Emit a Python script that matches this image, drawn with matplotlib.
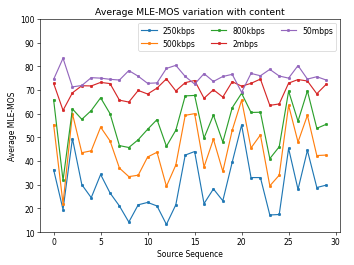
import matplotlib
matplotlib.use("Agg")
import matplotlib.pyplot as plt
import numpy as np

# Average MLE-MOS per source sequence, per bitrate
seq = np.arange(30)
mos_250k = [36.3, 19.5, 49.5, 30.0, 24.5, 34.3, 26.5, 21.0, 14.2, 21.5,
            22.5, 21.0, 13.2, 21.5, 42.5, 44.0, 22.0, 28.2, 23.2, 39.5,
            55.2, 33.0, 33.0, 17.2, 17.4, 45.3, 28.0, 44.5, 28.8, 29.8]
mos_500k = [55.3, 22.0, 60.0, 43.5, 44.3, 54.3, 48.5, 37.0, 33.4, 34.0,
            41.7, 43.7, 29.3, 38.3, 59.3, 60.0, 37.5, 49.2, 35.6, 53.0,
            65.7, 45.5, 51.0, 29.5, 34.0, 63.5, 48.0, 59.3, 42.3, 42.5]
mos_800k = [65.8, 31.8, 62.0, 57.6, 61.3, 66.7, 60.0, 46.5, 45.7, 49.0,
            53.4, 57.5, 46.2, 53.0, 67.5, 67.7, 49.7, 59.4, 48.0, 62.5,
            68.6, 60.5, 60.6, 41.0, 46.0, 69.5, 56.8, 69.6, 53.8, 55.5]
mos_2m = [72.8, 61.4, 68.8, 71.8, 71.7, 73.2, 72.7, 65.7, 64.9, 69.8,
          68.3, 70.8, 74.7, 69.6, 73.1, 74.0, 66.5, 70.1, 67.0, 73.5,
          71.6, 72.8, 74.6, 63.5, 64.1, 72.9, 74.4, 73.8, 68.4, 72.4]
mos_50m = [74.5, 83.4, 71.3, 71.9, 75.2, 75.0, 74.5, 74.2, 78.2, 75.8,
           72.8, 73.0, 79.1, 80.4, 75.7, 72.5, 76.9, 73.6, 75.7, 76.6,
           69.0, 77.0, 76.0, 78.7, 75.9, 75.0, 80.3, 74.6, 75.6, 74.2]

series = [("250kbps", mos_250k), ("500kbps", mos_500k), ("800kbps", mos_800k),
          ("2mbps", mos_2m), ("50mbps", mos_50m)]

fig = plt.figure(figsize=(6.4, 4.809), dpi=55.3125)
ax = fig.add_subplot(111)
for name, vals in series:
    ax.plot(seq, vals, marker='.', label=name)

ax.set_ylim(10, 100)
ax.set_xlabel("Source Sequence")
ax.set_ylabel("Average MLE-MOS")
ax.set_title("Average MLE-MOS variation with content")
ax.legend(ncol=3, loc='upper right')
fig.subplots_adjust(left=0.113, right=0.96, top=0.925, bottom=0.124)
fig.savefig("out.png")
